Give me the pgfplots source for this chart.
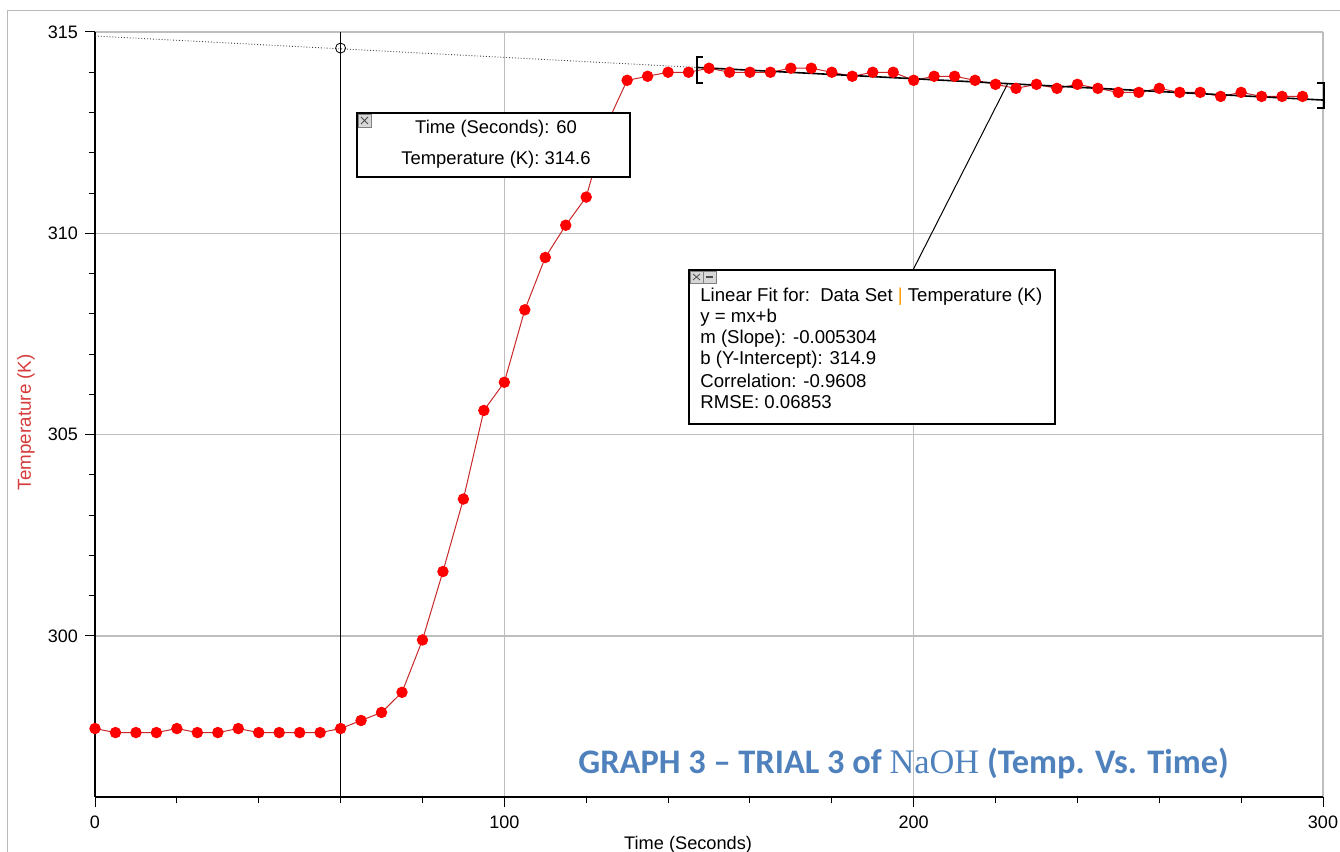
\documentclass[border=0pt]{standalone}
\usepackage{pgfplots}
\pgfplotsset{compat=1.18}
\usepackage{fontspec}
\setmainfont{Liberation Sans}
\newfontfamily\carlito{Carlito}
\newfontfamily\formulafont{Liberation Serif}

\definecolor{gridgray}{RGB}{190,190,190}
\definecolor{datared}{RGB}{255,0,0}
\definecolor{linered}{RGB}{200,40,40}
\definecolor{labelred}{RGB}{215,60,60}
\definecolor{titleblue}{RGB}{79,129,189}
\definecolor{iconfill}{RGB}{215,215,215}

% Temperature of trial 3, sampled every 5 s
\pgfplotstableread{
t T
0 297.7
5 297.6
10 297.6
15 297.6
20 297.7
25 297.6
30 297.6
35 297.7
40 297.6
45 297.6
50 297.6
55 297.6
60 297.7
65 297.9
70 298.1
75 298.6
80 299.9
85 301.6
90 303.4
95 305.6
100 306.3
105 308.1
110 309.4
115 310.2
120 310.9
125 312.7
130 313.8
135 313.9
140 314.0
145 314.0
150 314.1
155 314.0
160 314.0
165 314.0
170 314.1
175 314.1
180 314.0
185 313.9
190 314.0
195 314.0
200 313.8
205 313.9
210 313.9
215 313.8
220 313.7
225 313.6
230 313.7
235 313.6
240 313.7
245 313.6
250 313.5
255 313.5
260 313.6
265 313.5
270 313.5
275 313.4
280 313.5
285 313.4
290 313.4
295 313.4
}\trialdata

\begin{document}
\begin{tikzpicture}
\path[use as bounding box] (0,0) rectangle (670pt,426pt);

\begin{axis}[
  at={(47.5pt,27.5pt)}, anchor=south west,
  scale only axis, width=614pt, height=382.5pt,
  xmin=0, xmax=300, ymin=296, ymax=315,
  axis x line=bottom, axis y line=left,
  axis line style={black, line width=0.9pt, -},
  xtick={0,100,200,300}, ytick={300,305,310,315},
  minor x tick num=4, minor y tick num=4,
  tick align=outside, major tick length=5pt, minor tick length=3.2pt,
  tick style={black, line width=0.5pt},
  grid=major, major grid style={gridgray, line width=0.7pt},
  /pgf/number format/assume math mode=true,
  ticklabel style={font=\fontsize{9}{10}\selectfont},
  xticklabel style={yshift=-1pt},
  xlabel={Time (Seconds)},
  xlabel style={at={(axis description cs:0.483,0)}, anchor=center, yshift=-24pt,
    font=\fontsize{9.1}{10}\selectfont},
  ylabel={Temperature (K)},
  ylabel style={at={(axis description cs:-0.0562,0.49)}, anchor=center,
    font=\fontsize{9.4}{10}\selectfont, text=labelred},
  clip=false,
]
% examine cursor at t = 60 s
\addplot[black, line width=0.5pt] coordinates {(60,296) (60,315)};
% linear fit y = mx + b, dotted outside the fitted range
\addplot[black!75, densely dotted, line width=0.45pt] coordinates {(0,314.9) (147,314.12)};
% measured temperature
\addplot[linered, line width=0.5pt, mark=*, mark size=2.6pt,
  mark options={fill=datared, draw=datared}] table[x=t, y=T] {\trialdata};
\addplot[black, line width=0.8pt] coordinates {(147,314.12) (300,313.31)};
% examined value on the fit
\addplot[only marks, mark=o, mark size=2.5pt, black, line width=0.4pt]
  coordinates {(60,314.6)};
% brackets of the fitted range
\draw[black, line width=1pt] (axis cs:148.5,314.38) -- (axis cs:147,314.38)
  -- (axis cs:147,313.73) -- (axis cs:148.5,313.73);
\draw[black, line width=1pt] (axis cs:298.5,313.73) -- (axis cs:300.2,313.73)
  -- (axis cs:300.2,313.1) -- (axis cs:298.5,313.1);
\end{axis}

\begin{scope}[x=0.5pt, y=-0.5pt, shift={(0pt,426pt)}]
  % page frame
  \draw[gray!55, line width=0.5pt] (7,860) -- (7,11) -- (1345,11);

  % examine box
  \draw[black, line width=0.6pt, fill=white] (357,113) rectangle (630,177);
  \draw[gray, fill=iconfill, line width=0.3pt] (358,114) rectangle (371,127);
  \draw[black!70, line width=0.4pt] (361,117) -- (368,124) (361,124) -- (368,117);
  \node[font=\fontsize{9.2}{11}\selectfont, anchor=center] at (496,129) {Time (Seconds): 60};
  \node[font=\fontsize{9.2}{11}\selectfont, anchor=center] at (496,160) {Temperature (K): 314.6};

  % linear fit box and its leader
  \draw[black, line width=0.5pt] (913,270) -- (1008,83);
  \draw[black, line width=0.6pt, fill=white] (689,270) rectangle (1055,424);
  \draw[gray, fill=iconfill, line width=0.3pt] (690,271) rectangle (703,283);
  \draw[black!70, line width=0.4pt] (693,274) -- (700,280) (693,280) -- (700,274);
  \draw[gray, fill=iconfill, line width=0.3pt] (703,271) rectangle (716,283);
  \draw[black!70, line width=0.6pt] (706,277) -- (713,277);
  \begin{scope}[every node/.style={font=\fontsize{9.3}{11}\selectfont, anchor=west, inner sep=0pt}]
    \node at (700,297) {Linear Fit for:\ \ Data Set {\color{orange!80!yellow}|} Temperature (K)};
    \node at (700,318) {y = mx+b};
    \node at (700,339) {m (Slope): -0.005304};
    \node at (700,360) {b (Y-Intercept): 314.9};
    \node at (700,381) {Correlation: -0.9608};
    \node at (700,402) {RMSE: 0.06853};
  \end{scope}

  % caption
  \node[anchor=base west, inner sep=0pt, text=titleblue,
    font=\carlito\bfseries\fontsize{17.2}{20}\selectfont] at (578,774)
    {GRAPH 3 – TRIAL 3 of {\formulafont\mdseries NaOH} (Temp. Vs. Time)};
\end{scope}
\end{tikzpicture}
\end{document}
